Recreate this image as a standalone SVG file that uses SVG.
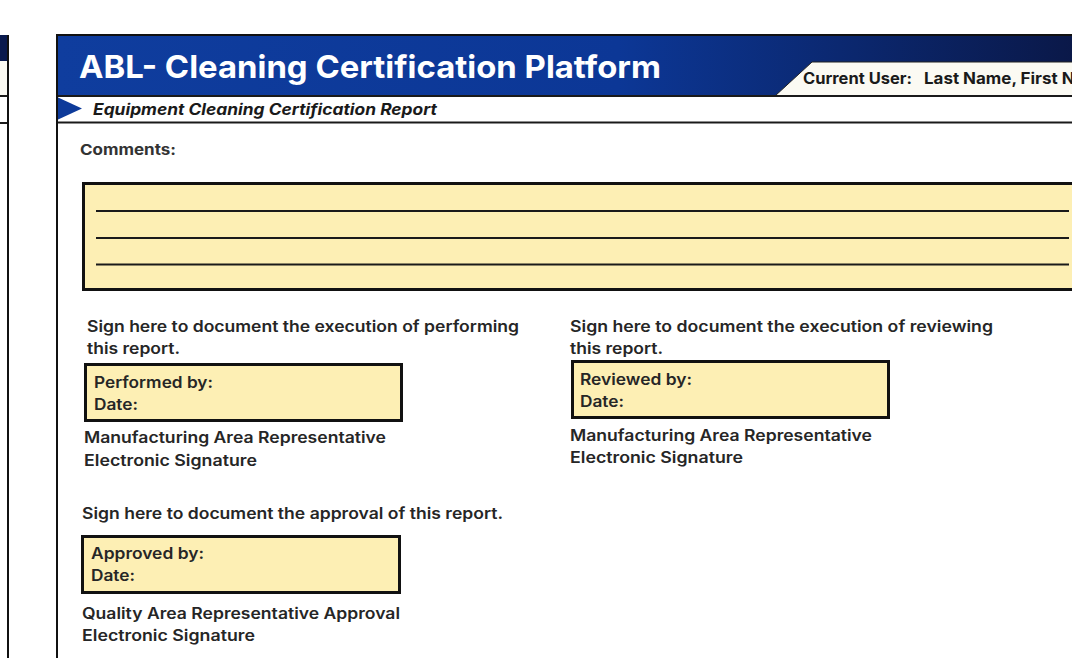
<svg xmlns="http://www.w3.org/2000/svg" width="1072" height="658" viewBox="0 0 1072 658">
<defs>
<linearGradient id="hdr" x1="0" y1="0" x2="1" y2="0">
<stop offset="0" stop-color="#0f3d9e"/>
<stop offset="0.55" stop-color="#0c3796"/>
<stop offset="1" stop-color="#0a1848"/>
</linearGradient>
<style>
.t{font-family:Inter,"Liberation Sans",sans-serif;fill:#262626;font-weight:600;font-size:15.5px}
.box{fill:#fdefb4;stroke:#111;stroke-width:3}
.rule{stroke:#1a1a1a;stroke-width:2}
</style>
</defs>
<rect width="1072" height="658" fill="#ffffff"/>
<g id="left-panel">
<rect x="-2" y="35" width="10" height="26" fill="#0a1a4e"/>
<rect x="-2" y="61" width="10" height="35" fill="#fbfaf3"/>
<line x1="0" y1="96" x2="8" y2="96" class="rule"/>
<line x1="0" y1="123" x2="8" y2="123" class="rule"/>
<line x1="8" y1="35" x2="8" y2="658" stroke="#111" stroke-width="2"/>
</g>
<g id="header">
<rect x="57" y="35" width="1020" height="61" fill="url(#hdr)"/>
<line x1="57" y1="35" x2="1072" y2="35" stroke="#111" stroke-width="2"/>
<text x="79" y="78" font-family="Inter,'Liberation Sans',sans-serif" font-weight="700" font-size="31.5" fill="#ffffff" textLength="582" lengthAdjust="spacingAndGlyphs">ABL- Cleaning Certification Platform</text>
<path d="M775,96 L812,62 L1074,62 L1074,96 Z" fill="#fbfaf3" stroke="#222" stroke-width="1"/>
<text x="803" y="84" class="t" style="font-weight:700;font-size:15.5px;fill:#1a1a1a" textLength="109" lengthAdjust="spacingAndGlyphs">Current User:</text>
<text x="924" y="84" class="t" style="font-weight:700;font-size:15.5px;fill:#1a1a1a" textLength="186" lengthAdjust="spacingAndGlyphs">Last Name, First Name</text>
</g>
<g id="subheader">
<rect x="57" y="96" width="1020" height="27" fill="#ffffff"/>
<line x1="57" y1="96" x2="1072" y2="96" class="rule"/>
<line x1="57" y1="122.5" x2="1072" y2="122.5" class="rule"/>
<path d="M57,97 L82,108.5 L57,120 Z" fill="#0d3a9a"/>
<text x="93" y="115" class="t" style="font-style:italic;font-weight:700;font-size:15.5px;fill:#1a1a1a" textLength="344" lengthAdjust="spacingAndGlyphs">Equipment Cleaning Certification Report</text>
</g>
<line x1="57" y1="34" x2="57" y2="658" stroke="#111" stroke-width="2"/>
<g id="comments">
<text x="80" y="155" class="t" style="font-weight:700;font-size:15px;fill:#333" textLength="96" lengthAdjust="spacingAndGlyphs">Comments:</text>
<rect x="83.5" y="183.5" width="1000" height="106" class="box"/>
<line x1="96" y1="211" x2="1069" y2="211" class="rule"/>
<line x1="96" y1="238" x2="1069" y2="238" class="rule"/>
<line x1="96" y1="264.5" x2="1069" y2="264.5" class="rule"/>
</g>
<g id="performed">
<text x="87" y="332" class="t" textLength="432" lengthAdjust="spacingAndGlyphs">Sign here to document the execution of performing</text>
<text x="87" y="354" class="t" textLength="93" lengthAdjust="spacingAndGlyphs">this report.</text>
<rect x="85.5" y="364.5" width="316" height="56" class="box"/>
<text x="94" y="388" class="t" textLength="119" lengthAdjust="spacingAndGlyphs">Performed by:</text>
<text x="94" y="410" class="t" textLength="44" lengthAdjust="spacingAndGlyphs">Date:</text>
<text x="84" y="443" class="t" textLength="302" lengthAdjust="spacingAndGlyphs">Manufacturing Area Representative</text>
<text x="84" y="466" class="t" textLength="173" lengthAdjust="spacingAndGlyphs">Electronic Signature</text>
</g>
<g id="reviewed">
<text x="570" y="332" class="t" textLength="423" lengthAdjust="spacingAndGlyphs">Sign here to document the execution of reviewing</text>
<text x="570" y="354" class="t" textLength="93" lengthAdjust="spacingAndGlyphs">this report.</text>
<rect x="572.5" y="361.5" width="316" height="56" class="box"/>
<text x="580" y="385" class="t" textLength="112" lengthAdjust="spacingAndGlyphs">Reviewed by:</text>
<text x="580" y="407" class="t" textLength="44" lengthAdjust="spacingAndGlyphs">Date:</text>
<text x="570" y="441" class="t" textLength="302" lengthAdjust="spacingAndGlyphs">Manufacturing Area Representative</text>
<text x="570" y="463" class="t" textLength="173" lengthAdjust="spacingAndGlyphs">Electronic Signature</text>
</g>
<g id="approved">
<text x="82" y="519" class="t" textLength="421" lengthAdjust="spacingAndGlyphs">Sign here to document the approval of this report.</text>
<rect x="82.5" y="536.5" width="317" height="56" class="box"/>
<text x="91" y="559" class="t" textLength="113" lengthAdjust="spacingAndGlyphs">Approved by:</text>
<text x="91" y="581" class="t" textLength="44" lengthAdjust="spacingAndGlyphs">Date:</text>
<text x="82" y="619" class="t" textLength="318" lengthAdjust="spacingAndGlyphs">Quality Area Representative Approval</text>
<text x="82" y="641" class="t" textLength="173" lengthAdjust="spacingAndGlyphs">Electronic Signature</text>
</g>
</svg>
